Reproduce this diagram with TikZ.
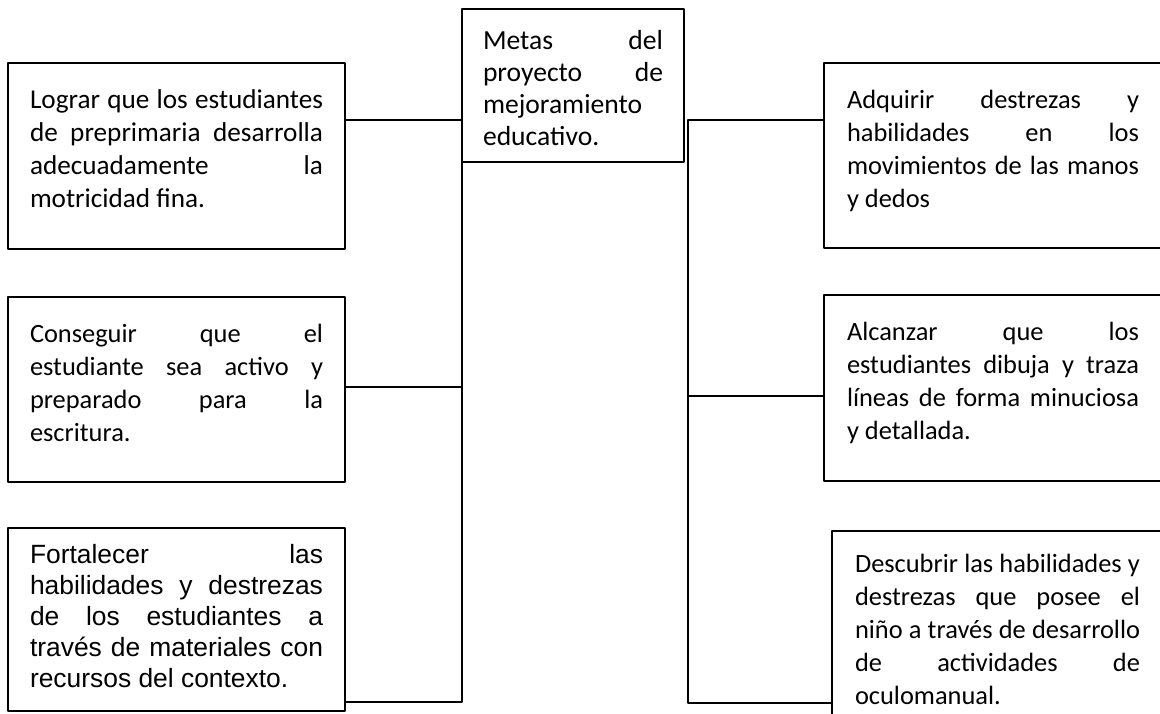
\documentclass[tikz,border=0pt]{standalone}
\usepackage{fontspec}
\setmainfont{Carlito}
\newfontfamily\arialfont{Liberation Sans}
\begin{document}
\begin{tikzpicture}[x=0.5pt,y=-0.5pt, line join=round]
	\tikzset{meta/.style={draw, line width=1pt, anchor=north west, outer sep=0pt, inner ysep=0pt, inner xsep=11pt, text width=146.5pt, align=justify, font={\fontsize{13.2pt}{16.5pt}\selectfont\tolerance=10000\hbadness=10000}}}
	\tikzset{link/.style={line width=0.6pt}}
	\def \W{1160}\def \H{713}
	\useasboundingbox (0,0) rectangle (\W,\H);
	\node[meta, text width=90pt, inner xsep=10.5pt, text height=20pt, text depth=56.5pt, font={\fontsize{13.8pt}{16pt}\selectfont\tolerance=10000\hbadness=10000}] (metas) at (462,9) {Metas del\linebreak proyecto de\linebreak mejoramiento\linebreak educativo.};
	\node[meta, text height=22.5pt, text depth=70.5pt, font={\fontsize{13.6pt}{16.5pt}\selectfont\tolerance=10000\hbadness=10000}] (lograr) at (8,63) {Lograr que los estudiantes\linebreak de preprimaria desarrolla\linebreak adecuadamente la\linebreak motricidad fina.};
	\node[meta, text height=22.5pt, text depth=70pt] (conseguir) at (8,297) {Conseguir que el\linebreak estudiante sea activo y\linebreak preparado para la\linebreak escritura.};
	\node[meta, text height=17.5pt, text depth=74pt, font={\arialfont\fontsize{13.2pt}{15.5pt}\selectfont\tolerance=10000\hbadness=10000}] (fortalecer) at (8,528) {Fortalecer las\linebreak habilidades y destrezas\linebreak de los estudiantes a\linebreak través de materiales con\linebreak recursos del contexto.};
	\node[meta, text width=146pt, inner xsep=11.5pt, text height=22.5pt, text depth=70pt] (adquirir) at (824,63) {Adquirir destrezas y\linebreak habilidades en los\linebreak movimientos de las manos\linebreak y dedos};
	\node[meta, text width=146pt, inner xsep=11.5pt, text height=22.5pt, text depth=70.5pt] (alcanzar) at (824,295) {Alcanzar que los\linebreak estudiantes dibuja y traza\linebreak líneas de forma minuciosa\linebreak y detallada.};
	\node[meta, text width=142.5pt, inner xsep=11.5pt, text height=20.5pt, text depth=80pt] (descubrir) at (832,531) {Descubrir las habilidades y\linebreak destrezas que posee el\linebreak niño a través de desarrollo\linebreak de actividades de\linebreak oculomanual.};
	\coordinate (l1) at (462,120); \coordinate (l2) at (462,387); \coordinate (l3) at (462,702);
	\coordinate (r1) at (688,120); \coordinate (r2) at (688,396); \coordinate (r3) at (688,703);
	\draw[link] (lograr.east |- l1) -- (l1);
	\draw[link] (conseguir.east |- l2) -- (l2);
	\draw[link] (metas.south west) -- (l3) -- (fortalecer.east |- l3);
	\draw[link] (adquirir.west |- r1) -- (r1) -- (r3) -- (descubrir.west |- r3);
	\draw[link] (r2) -- (alcanzar.west |- r2);
\end{tikzpicture}
\end{document}
